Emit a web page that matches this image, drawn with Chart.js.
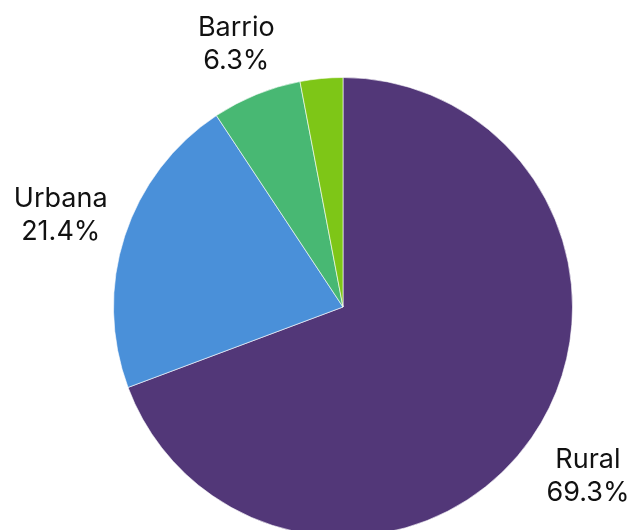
<!DOCTYPE html>
<html>
<head>
<meta charset="utf-8">
<script src="https://cdn.jsdelivr.net/npm/chart.js@4.4.1/dist/chart.umd.min.js"></script>
<style>
  html, body { margin: 0; padding: 0; background: #ffffff; overflow: hidden; }
  #wrap { width: 627px; height: 530px; position: relative; overflow: hidden; }
  #chart { position: absolute; left: 0; top: 0; }
</style>
</head>
<body>
<div id="wrap"><canvas id="chart" width="627" height="544"></canvas></div>
<script>
// Share of each zone type (percent)
const categories = ['Rural', 'Urbana', 'Barrio', 'Otro'];
const shares = [69.3, 21.4, 6.3, 3.0];
const sliceColors = ['#523778', '#4a90d9', '#48b873', '#7ec617'];
const labelledSlices = ['Rural', 'Urbana', 'Barrio'];

const FONT = '"Inter", "Noto Sans", sans-serif';
const FONT_SIZE = 27;
const LINE_H = 33;

// Two-line labels (name + percentage) placed just outside each slice
const outsideLabels = {
  id: 'outsideLabels',
  afterDatasetsDraw(chart) {
    const ctx = chart.ctx;
    const meta = chart.getDatasetMeta(0);
    ctx.save();
    ctx.font = FONT_SIZE + 'px ' + FONT;
    ctx.fillStyle = '#111111';
    ctx.textAlign = 'center';
    ctx.textBaseline = 'middle';
    meta.data.forEach((arc, i) => {
      const name = categories[i];
      if (!labelledSlices.includes(name)) return;
      const p = arc.getProps(['x', 'y', 'startAngle', 'endAngle', 'outerRadius'], true);
      const mid = (p.startAngle + p.endAngle) / 2;
      const ux = Math.cos(mid), uy = Math.sin(mid);
      const lines = [name, shares[i].toFixed(1) + '%'];
      const hw = Math.max(...lines.map(t => ctx.measureText(t).width)) / 2;
      const hh = (LINE_H * lines.length) / 2;
      const t = Math.min(hw / Math.max(Math.abs(ux), 1e-6), hh / Math.max(Math.abs(uy), 1e-6));
      const d = p.outerRadius + 18 + t;
      const cx = p.x + ux * d, cy = p.y + uy * d;
      lines.forEach((txt, k) => {
        ctx.fillText(txt, cx, cy + (k - (lines.length - 1) / 2) * LINE_H);
      });
    });
    ctx.restore();
  }
};

new Chart(document.getElementById('chart'), {
  type: 'pie',
  data: {
    labels: categories,
    datasets: [{
      data: shares,
      backgroundColor: sliceColors,
      borderColor: 'rgba(255,255,255,0.6)',
      borderWidth: 1
    }]
  },
  options: {
    responsive: false,
    animation: false,
    devicePixelRatio: 1,
    layout: { padding: { top: 77, bottom: 7, left: 113, right: 54 } },
    plugins: {
      legend: { display: false },
      tooltip: { enabled: false },
      title: { display: false }
    }
  },
  plugins: [outsideLabels]
});
</script>
</body>
</html>
